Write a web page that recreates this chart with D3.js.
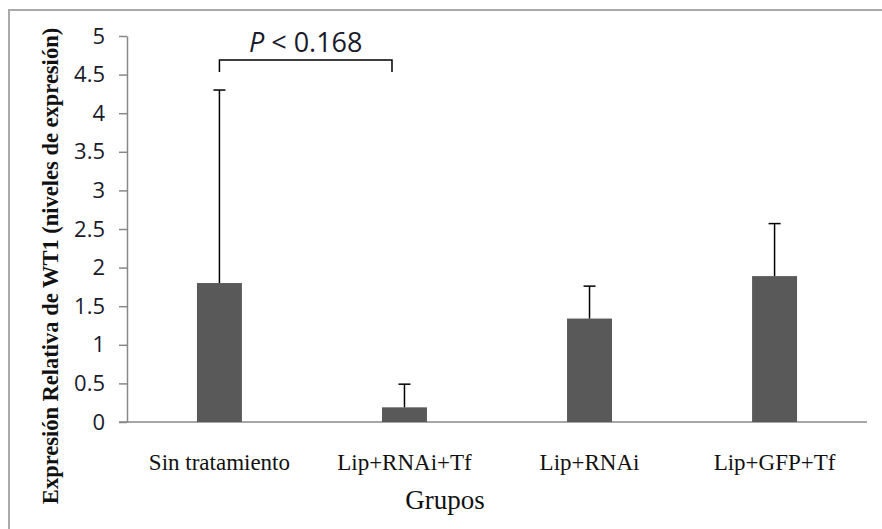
<!DOCTYPE html>
<html>
<head>
<meta charset="utf-8">
<script src="https://cdn.jsdelivr.net/npm/d3@7"></script>
<style>
  body { margin: 0; background: #fff; }
  svg { display: block; }
</style>
</head>
<body>
<svg id="chart" width="882" height="529"></svg>
<script>
var groups = ["Sin tratamiento", "Lip+RNAi+Tf", "Lip+RNAi", "Lip+GFP+Tf"];
var means = [1.8, 0.19, 1.34, 1.89];
var errors = [2.5, 0.3, 0.42, 0.68];
var yTicks = [0, 0.5, 1, 1.5, 2, 2.5, 3, 3.5, 4, 4.5, 5];
var pLabel = "0.168";

var svg = d3.select("#chart");

// frame round the picture (right and bottom edges fall outside)
svg.append("path")
    .attr("d", "M9,529V10H882")
    .attr("fill", "none")
    .attr("stroke", "#aaa")
    .attr("stroke-width", 2);

var x = d3.scaleBand()
    .domain(groups)
    .range([127, 867])
    .paddingInner(0.757)
    .paddingOuter(0.378);

var y = d3.scaleLinear()
    .domain([0, 5])
    .range([422, 36]);

// y axis
var yAxis = svg.append("g")
    .attr("transform", "translate(127,0)")
    .call(d3.axisLeft(y).tickValues(yTicks).tickSize(8).tickSizeOuter(0)
        .tickFormat(function(d) { return d; }));
yAxis.select(".domain").attr("stroke", "#888").attr("stroke-width", 1.5);
yAxis.selectAll(".tick line").attr("stroke", "#888").attr("stroke-width", 1.5);
yAxis.selectAll(".tick text")
    .attr("x", -22)
    .attr("fill", "#1a1a2a")
    .style("font-family", "'Open Sans', 'Noto Sans', sans-serif")
    .style("font-size", "22px");

// x axis line
svg.append("line")
    .attr("x1", 119).attr("x2", 867)
    .attr("y1", y(0)).attr("y2", y(0))
    .attr("stroke", "#888")
    .attr("stroke-width", 1.5);

// bars
svg.append("g").selectAll("rect")
    .data(groups)
    .enter().append("rect")
        .attr("x", function(d) { return x(d); })
        .attr("width", x.bandwidth())
        .attr("y", function(d, i) { return y(means[i]); })
        .attr("height", function(d, i) { return y(0) - y(means[i]); })
        .attr("fill", "#595959");

// error bars (upper only)
var err = svg.append("g").attr("stroke", "#000").attr("stroke-width", 1.5);
groups.forEach(function(g, i) {
    var cx = x(g) + x.bandwidth() / 2;
    err.append("line")
        .attr("x1", cx).attr("x2", cx)
        .attr("y1", y(means[i])).attr("y2", y(means[i] + errors[i]));
    err.append("line")
        .attr("x1", cx - 6).attr("x2", cx + 6)
        .attr("y1", y(means[i] + errors[i])).attr("y2", y(means[i] + errors[i]));
});

// category labels
svg.append("g").selectAll("text")
    .data(groups)
    .enter().append("text")
        .attr("x", function(d) { return x(d) + x.bandwidth() / 2; })
        .attr("y", 470)
        .attr("text-anchor", "middle")
        .attr("fill", "#111")
        .style("font-family", "'Liberation Serif', 'DejaVu Serif', serif")
        .style("font-size", "23px")
        .text(function(d) { return d; });

svg.append("text")
    .attr("x", 445)
    .attr("y", 509)
    .attr("text-anchor", "middle")
    .attr("fill", "#111")
    .style("font-family", "'Liberation Serif', serif")
    .style("font-size", "27px")
    .text("Grupos");

svg.append("text")
    .attr("transform", "translate(58,266) rotate(-90)")
    .attr("text-anchor", "middle")
    .attr("fill", "#111")
    .style("font-family", "'Liberation Serif', serif")
    .style("font-size", "22.5px")
    .style("font-weight", "bold")
    .text("Expresión Relativa de WT1 (niveles de expresión)");

// significance bracket
var bx1 = x(groups[0]) + x.bandwidth() / 2;
var bx2 = x(groups[1]) + 10;
svg.append("path")
    .attr("d", "M" + bx1 + ",72V60H" + bx2 + "V72")
    .attr("fill", "none")
    .attr("stroke", "#000")
    .attr("stroke-width", 1.5);

var pt = svg.append("text")
    .attr("x", (bx1 + bx2) / 2)
    .attr("y", 52)
    .attr("text-anchor", "middle")
    .attr("fill", "#1a1a2a")
    .style("font-family", "'Open Sans', 'Noto Sans', sans-serif")
    .style("font-size", "27px");
pt.append("tspan").style("font-style", "italic").text("P");
pt.append("tspan").text(" < " + pLabel);
</script>
</body>
</html>
